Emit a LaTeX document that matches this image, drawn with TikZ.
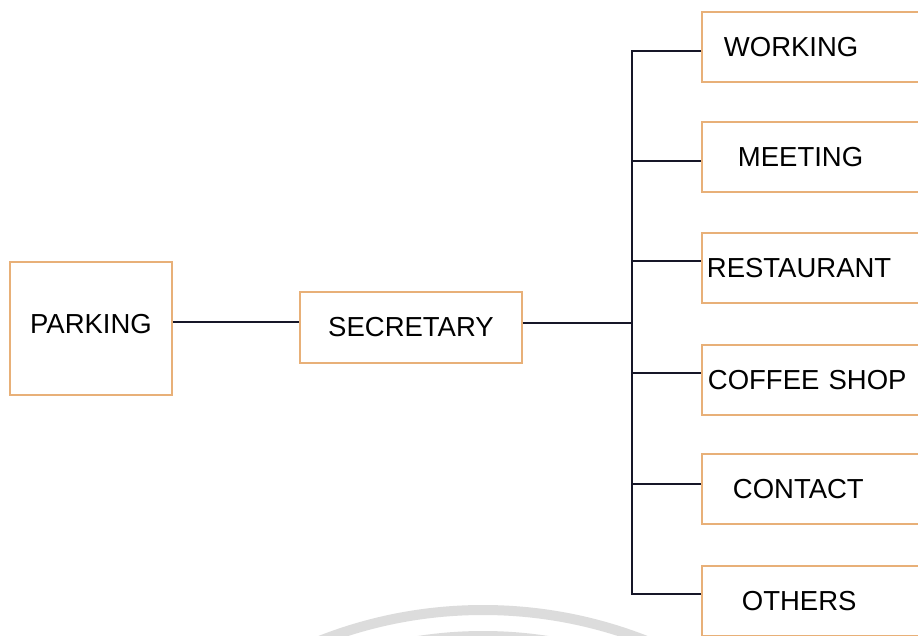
\documentclass[tikz,border=0pt]{standalone}
\usepackage{fontspec}
\setmainfont{Liberation Sans}
\definecolor{boxc}{RGB}{232,176,120}
\definecolor{linec}{RGB}{22,22,40}
\definecolor{wm}{RGB}{220,220,220}
\begin{document}
\begin{tikzpicture}[x=1pt,y=-1pt,
  box/.style={draw=boxc, line width=1.8pt, rectangle, inner sep=0pt,
    font=\fontsize{27.5}{30}\selectfont, text=black},
  rbox/.style={box, anchor=north west, minimum width=240pt, minimum height=70pt,
    align=left, inner xsep=#1, text width=240pt-2*#1},
  conn/.style={draw=linec, line width=2.8pt},
  mark wm/.style={draw=wm}]
\useasboundingbox (0,0) rectangle (918,636);
\clip (0,0) rectangle (918,636);
\fill[white] (0,0) rectangle (918,636);
% faint watermark arcs
\draw[mark wm, line width=10pt] (483,1056) circle[radius=446pt];
\draw[mark wm, line width=6pt] (483,1056) circle[radius=422pt];
% boxes
\node[box, minimum width=162pt, minimum height=133pt, text depth=10pt] (parking) at (91,328.5) {PARKING};
\node[box, minimum width=222pt, minimum height=71pt] (secretary) at (411,327.5) {SECRETARY};
\node[rbox=22pt] (working) at (701,11) {WORKING};
\node[rbox=36pt] (meeting) at (701,121) {MEETING};
\node[rbox=5pt] (restaurant) at (701,232) {RESTAURANT};
\node[rbox=6pt] (coffee) at (701,344) {COFFEE SHOP};
\node[rbox=31pt] (contact) at (701,453) {CONTACT};
\node[rbox=40pt] (others) at (701,565) {OTHERS};
% connector coordinates
\coordinate (lp) at (0,322);
\coordinate (jm) at (632,323);
\coordinate (jw) at (632,51);
\coordinate (jme) at (632,161);
\coordinate (jr) at (632,261);
\coordinate (jc) at (632,373);
\coordinate (jco) at (632,484);
\coordinate (jo) at (632,594);
% connectors
\draw[conn] (parking.east |- lp) -- (secretary.west |- lp);
\draw[conn] (secretary.east |- jm) -- (jm);
\draw[conn] (working.west |- jw) -- (jw) -- (jo) -- (others.west |- jo);
\draw[conn] (jme) -- (meeting.west |- jme);
\draw[conn] (jr) -- (restaurant.west |- jr);
\draw[conn] (jc) -- (coffee.west |- jc);
\draw[conn] (jco) -- (contact.west |- jco);
\end{tikzpicture}
\end{document}
